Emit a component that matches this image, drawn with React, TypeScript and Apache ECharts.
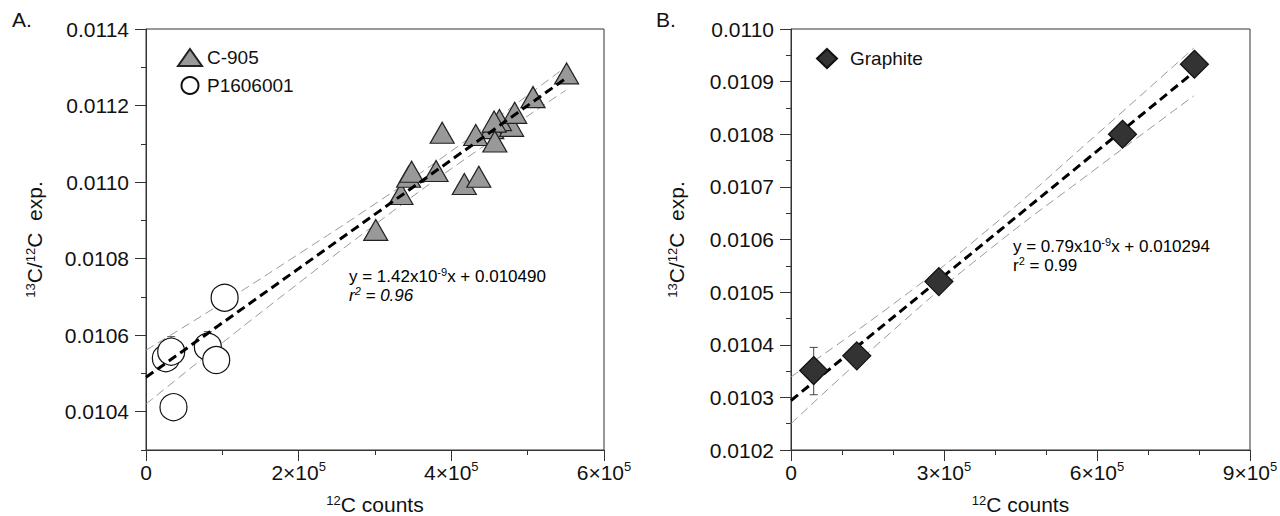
import React, { useEffect, useRef } from "react";
import * as echarts from "echarts";

const FONT = '"Liberation Sans", Arial, Helvetica, sans-serif';

// Panel A data
const c905: number[][] = [
  [301000, 0.010875],
  [334000, 0.010969],
  [344000, 0.011014],
  [348000, 0.011027],
  [380000, 0.011029],
  [417000, 0.010995],
  [436000, 0.011014],
  [388000, 0.011129],
  [453000, 0.011141],
  [479000, 0.011147],
  [463000, 0.011162],
  [456000, 0.011158],
  [432000, 0.011123],
  [457000, 0.011106],
  [483000, 0.011181],
  [507000, 0.011222],
  [551000, 0.011284],
];
const p1606001: number[][] = [
  [26000, 0.01054],
  [33000, 0.010557],
  [81000, 0.01057],
  [92000, 0.010535],
  [103000, 0.010698],
  [36000, 0.010412],
];
const errA: number[][] = [
  [33000, 0.010518, 0.010596],
  [81000, 0.010531, 0.010609],
];
const fitA: number[][] = [
  [0, 0.01049],
  [550000, 0.011271],
];
const upperA: number[][] = [
  [0, 0.010561],
  [100000, 0.010684],
  [200000, 0.010812],
  [300000, 0.010943],
  [400000, 0.011081],
  [550000, 0.011301],
];
const lowerA: number[][] = [
  [0, 0.01042],
  [100000, 0.01058],
  [200000, 0.010736],
  [300000, 0.010889],
  [400000, 0.011035],
  [550000, 0.01124],
];

// Panel B data
const graphite: number[][] = [
  [44500, 0.010351],
  [129000, 0.010379],
  [290000, 0.01052],
  [650000, 0.0108],
  [791000, 0.010933],
];
const errB: number[][] = [[44500, 0.010305, 0.010395]];
const fitB: number[][] = [
  [0, 0.010294],
  [790000, 0.010918],
];
const upperB: number[][] = [
  [0, 0.010339],
  [200000, 0.010477],
  [380000, 0.010614],
  [600000, 0.0108],
  [790000, 0.010964],
];
const lowerB: number[][] = [
  [0, 0.01025],
  [200000, 0.010427],
  [380000, 0.010574],
  [600000, 0.010736],
  [790000, 0.010873],
];

// Tick values
const yMajorA = [0.0104, 0.0106, 0.0108, 0.011, 0.0112, 0.0114];
const yMinorA = [0.0103, 0.0105, 0.0107, 0.0109, 0.0111, 0.0113];
const yMajorB = [0.0102, 0.0103, 0.0104, 0.0105, 0.0106, 0.0107, 0.0108, 0.0109, 0.011];
const yMinorB = [0.01025, 0.01035, 0.01045, 0.01055, 0.01065, 0.01075, 0.01085, 0.01095];

const AXIS_COLOR = "#333";
const TEXT_COLOR = "#111";

const labelRich = {
  n: { fontSize: 21, lineHeight: 24, fontFamily: FONT, color: TEXT_COLOR },
  s: { fontSize: 13, lineHeight: 13, verticalAlign: "top", fontFamily: FONT, color: TEXT_COLOR },
};
const nameRich = {
  n: { fontSize: 21, lineHeight: 21, fontFamily: FONT, color: TEXT_COLOR },
  s: { fontSize: 13, lineHeight: 12, verticalAlign: "top", fontFamily: FONT, color: TEXT_COLOR },
};

const xLabelFmt = (v: number) =>
  v === 0 ? "{n|0}" : `{n|${Math.round(v / 1e5)}×10}{s|5}`;

function xAxisCfg(gridIndex: number, max: number, interval: number, split: number) {
  return {
    type: "value",
    gridIndex,
    min: 0,
    max,
    interval,
    name: "{s|12}{n|C counts}",
    nameLocation: "middle",
    nameGap: 44,
    nameTextStyle: { rich: nameRich },
    axisLine: { show: true, lineStyle: { color: AXIS_COLOR, width: 1 } },
    axisTick: { show: true, length: 11, lineStyle: { color: AXIS_COLOR } },
    minorTick: { show: true, splitNumber: split, length: 5, lineStyle: { color: AXIS_COLOR } },
    axisLabel: { formatter: xLabelFmt, margin: 10, rich: labelRich },
    splitLine: { show: false },
    minorSplitLine: { show: false },
  };
}

function yAxisMain(gridIndex: number, min: number, max: number, major: number[], gap: number) {
  return {
    type: "value",
    gridIndex,
    position: "left",
    min,
    max,
    name: "{s|13}{n|C/}{s|12}{n|C\u00a0\u00a0exp.}",
    nameLocation: "middle",
    nameGap: gap,
    nameTextStyle: { rich: nameRich },
    axisLine: { show: true, lineStyle: { color: AXIS_COLOR, width: 1 } },
    axisTick: { show: true, length: 11, customValues: major, lineStyle: { color: AXIS_COLOR } },
    axisLabel: {
      customValues: major,
      formatter: (v: number) => v.toFixed(4),
      fontSize: 21,
      fontFamily: FONT,
      color: TEXT_COLOR,
      margin: 17,
    },
    splitLine: { show: false },
  };
}

function yAxisMinor(gridIndex: number, min: number, max: number, minor: number[]) {
  return {
    type: "value",
    gridIndex,
    position: "left",
    offset: 0,
    min,
    max,
    axisLine: { show: false },
    axisTick: { show: true, length: 5, customValues: minor, lineStyle: { color: AXIS_COLOR } },
    axisLabel: { show: false },
    splitLine: { show: false },
  };
}

const errRender = (params: any, api: any) => {
  const x = api.value(0);
  const lo = api.coord([x, api.value(1)]);
  const hi = api.coord([x, api.value(2)]);
  const st = { stroke: "#444", lineWidth: 1 };
  return {
    type: "group",
    children: [
      { type: "line", shape: { x1: lo[0], y1: lo[1], x2: hi[0], y2: hi[1] }, style: st },
      { type: "line", shape: { x1: lo[0] - 4, y1: lo[1], x2: lo[0] + 4, y2: lo[1] }, style: st },
      { type: "line", shape: { x1: hi[0] - 4, y1: hi[1], x2: hi[0] + 4, y2: hi[1] }, style: st },
    ],
  };
};

const bandStyle = { color: "#999", width: 1, type: [9, 5] };
const fitStyle = { color: "#000", width: 3, type: [9, 5] };

function lineSeries(name: string, data: number[][], xi: number, yi: number, style: any, z: number, smooth: boolean) {
  return {
    name,
    type: "line",
    xAxisIndex: xi,
    yAxisIndex: yi,
    data,
    symbol: "none",
    showSymbol: false,
    smooth,
    silent: true,
    lineStyle: style,
    z,
  };
}

const eqRich = {
  n: { fontSize: 17, lineHeight: 20, fontFamily: FONT, color: TEXT_COLOR },
  s: { fontSize: 11, lineHeight: 11, verticalAlign: "top", fontFamily: FONT, color: TEXT_COLOR },
  ni: { fontSize: 17, lineHeight: 20, fontFamily: FONT, color: TEXT_COLOR, fontStyle: "italic" },
  si: { fontSize: 11, lineHeight: 11, verticalAlign: "top", fontFamily: FONT, color: TEXT_COLOR, fontStyle: "italic" },
};

export default function App() {
  const ref = useRef<HTMLDivElement>(null);
  useEffect(() => {
    if (!ref.current) return;
    const chart = echarts.init(ref.current, undefined, { renderer: "svg" });
    const option: any = {
      animation: false,
      backgroundColor: "#fff",
      textStyle: { fontFamily: FONT },
      grid: [
        { left: 146, top: 29, right: 676, bottom: 66, show: true, borderColor: AXIS_COLOR, borderWidth: 1, containLabel: false, outerBoundsMode: "none" },
        { left: 791, top: 29, right: 30, bottom: 66, show: true, borderColor: AXIS_COLOR, borderWidth: 1, containLabel: false, outerBoundsMode: "none" },
      ],
      xAxis: [xAxisCfg(0, 600000, 200000, 2), xAxisCfg(1, 900000, 300000, 3)],
      yAxis: [
        yAxisMain(0, 0.0103, 0.0114, yMajorA, 101),
        yAxisMinor(0, 0.0103, 0.0114, yMinorA),
        yAxisMain(1, 0.0102, 0.011, yMajorB, 104),
        yAxisMinor(1, 0.0102, 0.011, yMinorB),
      ],
      legend: [
        {
          left: 172,
          top: 43,
          orient: "vertical",
          itemGap: 9,
          itemWidth: 24,
          itemHeight: 17,
          selectedMode: false,
          data: ["C-905", "P1606001"],
          textStyle: { fontSize: 19, fontFamily: FONT, color: TEXT_COLOR },
        },
        {
          left: 811,
          top: 43,
          orient: "vertical",
          itemWidth: 20,
          itemHeight: 19,
          selectedMode: false,
          data: ["Graphite"],
          textStyle: { fontSize: 19, fontFamily: FONT, color: TEXT_COLOR, padding: [0, 0, 0, 8] },
        },
      ],
      series: [
        lineSeries("bandUA", upperA, 0, 0, bandStyle, 2, true),
        lineSeries("bandLA", lowerA, 0, 0, bandStyle, 2, true),
        {
          name: "errA",
          type: "custom",
          xAxisIndex: 0,
          yAxisIndex: 0,
          data: errA,
          renderItem: errRender,
          encode: { x: 0, y: [1, 2] },
          silent: true,
          z: 2,
        },
        {
          name: "C-905",
          type: "scatter",
          xAxisIndex: 0,
          yAxisIndex: 0,
          data: c905,
          symbol: "triangle",
          symbolSize: [24, 21],
          itemStyle: { color: "#999", borderColor: "#222", borderWidth: 1.2, opacity: 1 },
          z: 3,
        },
        {
          name: "P1606001",
          type: "scatter",
          xAxisIndex: 0,
          yAxisIndex: 0,
          data: p1606001,
          symbol: "circle",
          symbolSize: 27,
          itemStyle: { color: "#fff", borderColor: "#111", borderWidth: 1.2, opacity: 1 },
          z: 3,
        },
        lineSeries("fitA", fitA, 0, 0, fitStyle, 4, false),
        lineSeries("bandUB", upperB, 1, 2, bandStyle, 2, true),
        lineSeries("bandLB", lowerB, 1, 2, bandStyle, 2, true),
        lineSeries("fitB", fitB, 1, 2, fitStyle, 2, false),
        {
          name: "errB",
          type: "custom",
          xAxisIndex: 1,
          yAxisIndex: 2,
          data: errB,
          renderItem: errRender,
          encode: { x: 0, y: [1, 2] },
          silent: true,
          z: 2,
        },
        {
          name: "Graphite",
          type: "scatter",
          xAxisIndex: 1,
          yAxisIndex: 2,
          data: graphite,
          symbol: "diamond",
          symbolSize: [28, 28],
          itemStyle: { color: "#333", borderColor: "#111", borderWidth: 1.2, opacity: 1 },
          z: 3,
        },
      ],
      graphic: [
        { type: "text", left: 12, top: 9, style: { text: "A.", font: `21px ${FONT}`, fill: TEXT_COLOR } },
        { type: "text", left: 656, top: 9, style: { text: "B.", font: `21px ${FONT}`, fill: TEXT_COLOR } },
        {
          type: "text",
          x: 349,
          y: 276,
          style: { text: "{n|y = 1.42x10}{s|-9}{n|x + 0.010490}", rich: eqRich, verticalAlign: "middle" },
        },
        {
          type: "text",
          x: 349,
          y: 295,
          style: { text: "{ni|r}{si|2}{ni| = 0.96}", rich: eqRich, verticalAlign: "middle" },
        },
        {
          type: "text",
          x: 1013,
          y: 246,
          style: { text: "{n|y = 0.79x10}{s|-9}{n|x + 0.010294}", rich: eqRich, verticalAlign: "middle" },
        },
        {
          type: "text",
          x: 1013,
          y: 265,
          style: { text: "{n|r}{s|2}{n| = 0.99}", rich: eqRich, verticalAlign: "middle" },
        },
      ],
    };
    chart.setOption(option);
    return () => chart.dispose();
  }, []);
  return (
    <div
      ref={ref}
      style={{ position: "absolute", left: 0, top: 0, width: 1280, height: 516, background: "#fff" }}
    />
  );
}
